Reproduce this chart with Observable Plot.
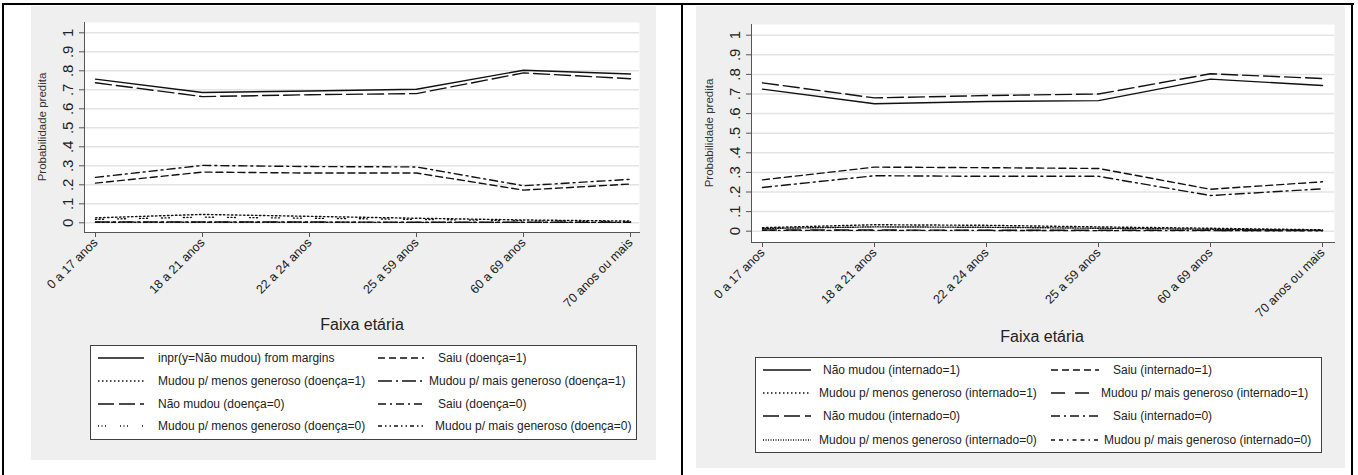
<!DOCTYPE html>
<html><head><meta charset="utf-8">
<script src="https://cdn.jsdelivr.net/npm/d3@7"></script>
<script src="https://cdn.jsdelivr.net/npm/@observablehq/plot@0.6"></script>
<style>
body{margin:0;background:#fff;font-family:"Liberation Sans",Arial,sans-serif;}
#page{position:relative;width:1358px;height:475px;overflow:hidden;background:#fff;}
.bl{position:absolute;background:#000;}
.panel{position:absolute;}
.legend{position:absolute;background:#fff;border:1px solid #404040;box-sizing:border-box;}
.item{position:absolute;font-size:12px;color:#222;white-space:nowrap;line-height:14px;}
.key{position:absolute;overflow:visible;}
.ytitle{position:absolute;font-size:11.5px;color:#333;white-space:nowrap;transform:translate(-50%,-50%) rotate(-90deg);}
.xtitle{position:absolute;font-size:16px;color:#222;white-space:nowrap;transform:translate(-50%,-50%);}
</style></head><body><div id="page"></div>
<script>
// ---- categories and ticks ----
const ageGroups = ["0 a 17 anos", "18 a 21 anos", "22 a 24 anos", "25 a 59 anos", "60 a 69 anos", "70 anos ou mais"];
const yTicks = [0, 0.1, 0.2, 0.3, 0.4, 0.5, 0.6, 0.7, 0.8, 0.9, 1];
const yTickLabels = ["0", ".1", ".2", ".3", ".4", ".5", ".6", ".7", ".8", ".9", "1"];
const yTitle = "Probabilidade predita";
const xTitle = "Faixa etária";

// ---- left panel (doença) ----
const doencaNames = [
  "inpr(y=Não mudou) from margins", "Saiu (doença=1)",
  "Mudou p/ menos generoso (doença=1)", "Mudou p/ mais generoso (doença=1)",
  "Não mudou (doença=0)", "Saiu (doença=0)",
  "Mudou p/ menos generoso (doença=0)", "Mudou p/ mais generoso (doença=0)"];
const d1NaoMudou = [0.756, 0.686, 0.694, 0.703, 0.803, 0.783];
const d1Saiu     = [0.209, 0.267, 0.262, 0.262, 0.172, 0.204];
const d1Menos    = [0.026, 0.044, 0.034, 0.024, 0.015, 0.009];
const d1Mais     = [0.004, 0.004, 0.004, 0.003, 0.003, 0.002];
const d0NaoMudou = [0.737, 0.664, 0.674, 0.680, 0.789, 0.758];
const d0Saiu     = [0.239, 0.302, 0.296, 0.294, 0.195, 0.229];
const d0Menos    = [0.018, 0.030, 0.024, 0.018, 0.011, 0.006];
const d0Mais     = [0.003, 0.003, 0.003, 0.002, 0.002, 0.002];

// ---- right panel (internado) ----
const internNames = [
  "Não mudou (internado=1)", "Saiu (internado=1)",
  "Mudou p/ menos generoso (internado=1)", "Mudou p/ mais generoso (internado=1)",
  "Não mudou (internado=0)", "Saiu (internado=0)",
  "Mudou p/ menos generoso (internado=0)", "Mudou p/ mais generoso (internado=0)"];
const i1NaoMudou = [0.725, 0.650, 0.662, 0.666, 0.776, 0.743];
const i1Saiu     = [0.262, 0.327, 0.324, 0.320, 0.214, 0.252];
const i1Menos    = [0.018, 0.033, 0.030, 0.022, 0.015, 0.007];
const i1Mais     = [0.006, 0.006, 0.005, 0.005, 0.004, 0.003];
const i0NaoMudou = [0.757, 0.680, 0.692, 0.700, 0.803, 0.779];
const i0Saiu     = [0.223, 0.283, 0.280, 0.280, 0.182, 0.216];
const i0Menos    = [0.014, 0.022, 0.020, 0.015, 0.010, 0.005];
const i0Mais     = [0.004, 0.004, 0.004, 0.003, 0.003, 0.002];

// ---- styles (line patterns) ----
const dashLeft  = [null, "7,4", "1.5,2.5", "14,4,2,4", "16,5", "8,4,2,4", "1,2.5,1,2.5,1,14", "4,3,1.5,3,1.5,3"];
const dashRight = [null, "7,4", "1.5,2.5", "14,10", "16,5", "9,4,2,4", "1,1.5", "4,4,4,4,1.5,4"];

const page = document.getElementById("page");
function box(cls, l, t, w, h, bg) {
  const d = document.createElement("div");
  d.className = cls;
  Object.assign(d.style, {left: l + "px", top: t + "px", width: w + "px", height: h + "px"});
  if (bg) d.style.background = bg;
  page.appendChild(d);
  return d;
}
// outer table frame
box("bl", 2, 3, 1352, 2);
box("bl", 2, 3, 2, 472);
box("bl", 681, 3, 2, 472);
box("bl", 1351, 3, 2, 472);

function drawPanel(cfg, names, values, dashes) {
  const g = box("panel", cfg.left, cfg.top, cfg.width, cfg.height, "#efefef");
  const marks = [
    Plot.frame({fill: "#fff", stroke: null}),
    Plot.gridY(yTicks, {stroke: "#e4e4e4", strokeOpacity: 1, strokeWidth: 1.5}),
    ...values.map((vals, k) => Plot.line(ageGroups.map((a, i) => ({age: a, p: vals[i]})),
      {x: "age", y: "p", stroke: "#111", strokeWidth: 1.4, strokeDasharray: dashes[k]})),
    Plot.frame({anchor: "left", stroke: "#555"}),
    Plot.frame({anchor: "bottom", stroke: "#555"}),
    Plot.axisY(yTicks, {anchor: "left", tickFormat: d => yTickLabels[yTicks.indexOf(d)], tickRotate: -90,
      fontSize: 15, tickSize: 5, tickPadding: 7, stroke: "#555", fill: "#222", label: null}),
    Plot.axisX({anchor: "bottom", tickRotate: -45, fontSize: 12.5, tickSize: 5, tickPadding: 3,
      stroke: "#555", fill: "#222", label: null})
  ];
  const svg = Plot.plot({
    width: cfg.width, height: cfg.height,
    marginLeft: cfg.ml, marginRight: cfg.mr, marginTop: cfg.mt, marginBottom: cfg.mb,
    x: {type: "point", domain: ageGroups, range: cfg.xRange, padding: 0},
    y: {domain: [0, 1], range: cfg.yRange},
    style: {background: "#efefef", fontFamily: "Liberation Sans, Arial, sans-serif", overflow: "visible"},
    marks
  });
  g.appendChild(svg);

  const yt = document.createElement("div");
  yt.className = "ytitle"; yt.textContent = yTitle;
  yt.style.left = cfg.yTitle[0] + "px"; yt.style.top = cfg.yTitle[1] + "px";
  page.appendChild(yt);
  const xt = document.createElement("div");
  xt.className = "xtitle"; xt.textContent = xTitle;
  xt.style.left = cfg.xTitle[0] + "px"; xt.style.top = cfg.xTitle[1] + "px";
  page.appendChild(xt);

  const L = cfg.legend;
  const lg = box("legend", L.left, L.top, L.width, L.height);
  names.forEach((name, k) => {
    const row = Math.floor(k / 2), col = k % 2;
    const cy = L.rows[row];
    const key = document.createElementNS("http://www.w3.org/2000/svg", "svg");
    const kx = L.keyX[col], kw = L.keyW;
    key.setAttribute("class", "key");
    key.setAttribute("width", kw); key.setAttribute("height", 6);
    key.style.left = kx + "px"; key.style.top = (cy - 3) + "px";
    const ln = document.createElementNS("http://www.w3.org/2000/svg", "line");
    ln.setAttribute("x1", 0); ln.setAttribute("x2", kw); ln.setAttribute("y1", 3); ln.setAttribute("y2", 3);
    ln.setAttribute("stroke", "#111"); ln.setAttribute("stroke-width", 1.5);
    if (dashes[k]) ln.setAttribute("stroke-dasharray", dashes[k]);
    key.appendChild(ln);
    lg.appendChild(key);
    const t = document.createElement("div");
    t.className = "item"; t.textContent = name;
    t.style.left = L.textX[k] + "px"; t.style.top = (cy - 7) + "px";
    lg.appendChild(t);
  });
}

drawPanel({
  left: 31, top: 6, width: 625, height: 454, ml: 53, mr: 17, mt: 16, mb: 228,
  xRange: [64, 599], yRange: [216.3, 26.3],
  yTitle: [42, 127], xTitle: [362, 325],
  legend: {left: 90, top: 345, width: 547, height: 95, rows: [12, 35, 58, 80],
    keyX: [7, 287], keyW: 46, textX: [67, 347, 67, 338, 67, 347, 67, 344]}
}, doencaNames, [d1NaoMudou, d1Saiu, d1Menos, d1Mais, d0NaoMudou, d0Saiu, d0Menos, d0Mais], dashLeft);

drawPanel({
  left: 696, top: 6, width: 649, height: 462, ml: 55, mr: 11, mt: 18, mb: 226,
  xRange: [65, 626], yRange: [224.7, 28.7],
  yTitle: [709, 133], xTitle: [1042, 337],
  legend: {left: 755, top: 357, width: 567, height: 96, rows: [12, 35, 58, 82],
    keyX: [7, 295], keyW: 48, textX: [67, 357, 63, 345, 67, 357, 63, 348]}
}, internNames, [i1NaoMudou, i1Saiu, i1Menos, i1Mais, i0NaoMudou, i0Saiu, i0Menos, i0Mais], dashRight);
</script></body></html>
